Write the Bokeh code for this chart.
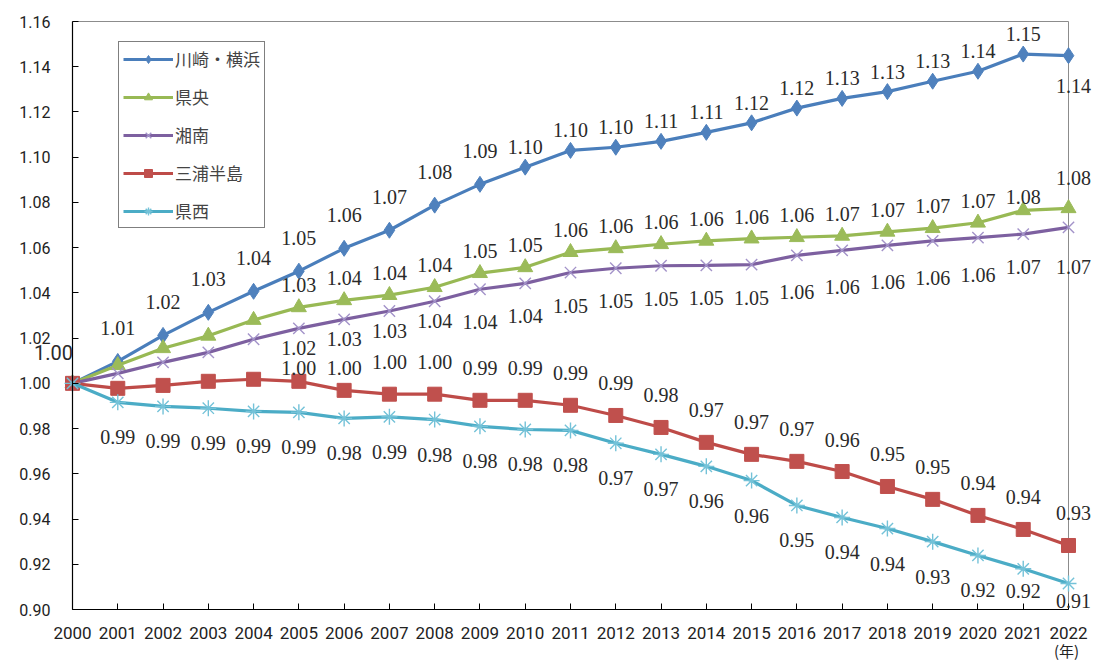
from bokeh.plotting import figure
from bokeh.models import (ColumnDataSource, FixedTicker, NumeralTickFormatter, Legend,
                          LegendItem, LabelSet, Label, Range1d)
from bokeh.embed import file_html
from bokeh.resources import INLINE

years = list(range(2000, 2023))
year_labels = [str(y) for y in years]
y_ticks = [0.90, 0.92, 0.94, 0.96, 0.98, 1.00, 1.02, 1.04, 1.06, 1.08, 1.10, 1.12, 1.14, 1.16]

names = ["川崎・横浜", "県央", "湘南", "三浦半島", "県西"]
kawasaki_yokohama = [1.000, 1.0097, 1.0212, 1.0314, 1.0407, 1.0496, 1.0597, 1.0677, 1.0788, 1.0880, 1.0956,
                     1.1030, 1.1044, 1.1070, 1.1110, 1.1152, 1.1217, 1.1260, 1.1290, 1.1336, 1.1380, 1.1456, 1.1449]
kenou = [1.000, 1.0080, 1.0155, 1.0210, 1.0280, 1.0336, 1.0367, 1.0390, 1.0425, 1.0487, 1.0513,
         1.0580, 1.0597, 1.0615, 1.0630, 1.0640, 1.0646, 1.0652, 1.0670, 1.0686, 1.0710, 1.0765, 1.0774]
shonan = [1.000, 1.0044, 1.0093, 1.0137, 1.0195, 1.0243, 1.0283, 1.0320, 1.0363, 1.0416, 1.0442,
          1.0490, 1.0509, 1.0520, 1.0522, 1.0525, 1.0566, 1.0588, 1.0610, 1.0630, 1.0644, 1.0660, 1.0690]
miura = [1.000, 0.9978, 0.9991, 1.0009, 1.0018, 1.0009, 0.9969, 0.9952, 0.9952, 0.9925, 0.9925,
         0.9903, 0.9858, 0.9805, 0.9739, 0.9686, 0.9655, 0.9610, 0.9544, 0.9487, 0.9416, 0.9354, 0.9283]
kensei = [1.000, 0.9916, 0.9898, 0.9890, 0.9876, 0.9872, 0.9845, 0.9852, 0.9840, 0.9810, 0.9796,
          0.9792, 0.9735, 0.9686, 0.9633, 0.9570, 0.9460, 0.9407, 0.9358, 0.9300, 0.9239, 0.9180, 0.9115]

series = [kawasaki_yokohama, kenou, shonan, miura, kensei]

# ---- styling / layout (not data) ----
line_colors = ["#4A7EBB", "#98B954", "#7D60A0", "#BE4B48", "#4BACC6"]
marker_colors = ["#4F81BD", "#9BBB59", "#A393C9", "#C0504D", "#74C2D8"]
markers = ["diamond", "triangle", "x", "square", "asterisk"]
msizes = [16, 15, 16, 14, 16]
# first labelled index and default vertical label offset (px, up positive) per series
label_start = [1, 5, 5, 5, 1]
label_off = [33, 22, -33, 32, -35]
# hand-placed label nudges (series index, year) -> offset
label_nudge = {}
for yy in range(2010, 2022):
    label_nudge[(0, yy)] = 20
label_nudge[(0, 2022)] = -30
label_nudge[(1, 2021)] = 13
label_nudge[(1, 2022)] = 30
for yy in range(2005, 2009):
    label_nudge[(2, yy)] = -20
for yy in range(2016, 2021):
    label_nudge[(2, yy)] = -37
label_nudge[(2, 2022)] = -40
label_nudge[(3, 2005)] = 13
label_nudge[(3, 2006)] = 22
label_nudge[(4, 2021)] = -22
label_nudge[(4, 2022)] = -18

W, H = 1093, 664
PX_X0, PX_X1 = 72, 1068      # pixel columns of first/last year
PX_YT, PX_YB = 21, 609       # pixel rows of top/bottom y tick
kx = (PX_X1 - PX_X0) / (years[-1] - years[0])
ky = (PX_YB - PX_YT) / (y_ticks[-1] - y_ticks[0])
x_rng = Range1d(years[0] - PX_X0 / kx, years[-1] + (W - PX_X1) / kx)
y_rng = Range1d(y_ticks[0] - (H - PX_YB) / ky, y_ticks[-1] + PX_YT / ky)

p = figure(width=W, height=H, output_backend="svg", toolbar_location=None,
           x_range=x_rng, y_range=y_rng,
           min_border_left=0, min_border_right=0, min_border_top=0, min_border_bottom=0)
p.xgrid.visible = False
p.ygrid.visible = False
p.outline_line_color = None
p.background_fill_color = "white"
p.border_fill_color = "white"

TICK_FONT = "Roboto"
for ax in (p.xaxis[0], p.yaxis[0]):
    ax.axis_line_color = "black"
    ax.axis_line_width = 1.2
    ax.major_tick_line_color = "black"
    ax.major_tick_in = 6
    ax.major_tick_out = 0
    ax.minor_tick_line_color = None
    ax.major_label_text_font = TICK_FONT
    ax.major_label_text_color = "#222222"

p.xaxis.fixed_location = y_ticks[0]
p.xaxis.bounds = (years[0], years[-1])
p.xaxis.ticker = FixedTicker(ticks=years)
p.xaxis.major_label_overrides = {y: s for y, s in zip(years, year_labels)}
p.xaxis.major_label_text_font_size = "17px"
p.xaxis.major_label_standoff = 17
p.yaxis.fixed_location = years[0]
p.yaxis.bounds = (y_ticks[0], y_ticks[-1])
p.yaxis.ticker = FixedTicker(ticks=y_ticks)
p.yaxis.formatter = NumeralTickFormatter(format="0.00")
p.yaxis.major_label_text_font_size = "16px"
p.yaxis.major_label_standoff = 22

# grey top and right border of the plot area
p.segment(x0=[years[0], years[-1]], y0=[y_ticks[-1], y_ticks[0]],
          x1=[years[-1], years[-1]], y1=[y_ticks[-1], y_ticks[-1]],
          line_color="#8c8c8c", line_width=1)

items = []
for i, (name, vals) in enumerate(zip(names, series)):
    src = ColumnDataSource(dict(x=years, y=vals))
    ln = p.line("x", "y", source=src, line_color=line_colors[i], line_width=3.2)
    mk = p.scatter("x", "y", source=src, marker=markers[i], size=msizes[i],
                   fill_color=marker_colors[i], line_color=marker_colors[i],
                   line_width=1.4 if markers[i] in ("x", "asterisk") else 1)
    items.append(LegendItem(label=name, renderers=[ln, mk]))

LABEL_FONT = "Roboto"
LABEL_COLOR = "#2a2a2a"
for i, vals in enumerate(series):
    groups = {}
    for j in range(label_start[i], len(years)):
        o = label_nudge.get((i, years[j]), label_off[i])
        dx = 5 if j == len(years) - 1 else 0
        g = groups.setdefault((o, dx), dict(x=[], y=[], t=[]))
        g["x"].append(years[j])
        g["y"].append(vals[j])
        g["t"].append(f"{vals[j]:.2f}")
    for (o, dx), g in groups.items():
        p.add_layout(LabelSet(x="x", y="y", text="t", source=ColumnDataSource(g),
                              x_offset=dx, y_offset=o,
                              text_align="center", text_baseline="middle",
                              text_font=LABEL_FONT, text_font_size="20px",
                              text_color=LABEL_COLOR))

p.add_layout(Label(x=years[0], y=series[0][0], text=f"{series[0][0]:.2f}", x_offset=-19, y_offset=31,
                   text_align="center", text_baseline="middle", text_font=LABEL_FONT,
                   text_font_size="20px", text_color=LABEL_COLOR))

p.add_layout(Label(x=1066, y=14, x_units="screen", y_units="screen", text="(年)",
                   text_align="center", text_baseline="middle", text_font="Noto Sans CJK JP",
                   text_font_size="15px", text_color="#222222"))

legend = Legend(items=items, location=(118, H - 228), margin=0, padding=4,
                glyph_width=50, glyph_height=20, label_height=20, spacing=13,
                label_standoff=2, label_text_font="Noto Sans CJK JP", label_text_font_size="17px",
                border_line_color="black", border_line_width=1, background_fill_color="white",
                background_fill_alpha=1.0)
p.add_layout(legend)

open("out.html", "w").write(file_html(p, INLINE))
